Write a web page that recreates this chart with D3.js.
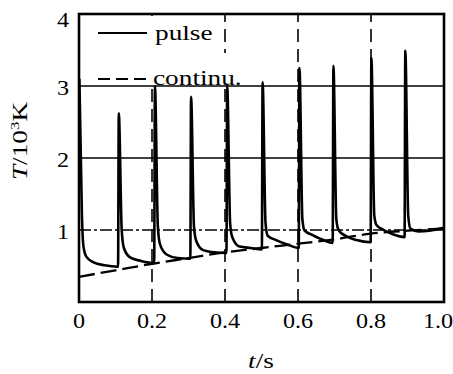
<!DOCTYPE html>
<html>
<head>
<meta charset="utf-8">
<script src="https://cdn.jsdelivr.net/npm/d3@7"></script>
<style>
  html, body { margin: 0; padding: 0; background: #fff; }
  text { font-family: "Liberation Serif", "Times New Roman", serif; fill: #000; }
</style>
</head>
<body>
<div id="chart"></div>
<script>
// axis ticks
const xTicks = [0, 0.2, 0.4, 0.6, 0.8, 1.0];
const xTickLabels = ['0', '0.2', '0.4', '0.6', '0.8', '1.0'];
const yTicks = [1, 2, 3, 4];
const yGrid = [1, 2, 3];
const xGrid = [0.2, 0.4, 0.6, 0.8];

// continuous discharge temperature (10^3 K)
const contTime = [0, 0.1, 0.2, 0.3, 0.4, 0.5, 0.6, 0.7, 0.8, 0.9, 1.0];
const contTemp = [0.35, 0.44, 0.53, 0.61, 0.69, 0.75, 0.81, 0.87, 0.95, 0.99, 1.02];

// pulsed discharge temperature (10^3 K)
const pulseTime = [
  0.001, 0.008, 0.012, 0.02, 0.04, 0.07, 0.107,
  0.109, 0.117, 0.123, 0.14, 0.17, 0.206,
  0.208, 0.216, 0.222, 0.24, 0.27, 0.305,
  0.307, 0.315, 0.321, 0.34, 0.37, 0.404,
  0.406, 0.414, 0.42, 0.44, 0.47, 0.501,
  0.503, 0.511, 0.517, 0.54, 0.57, 0.602,
  0.604, 0.612, 0.618, 0.64, 0.67, 0.695,
  0.697, 0.705, 0.711, 0.73, 0.76, 0.799,
  0.801, 0.809, 0.815, 0.835, 0.86, 0.892,
  0.894, 0.902, 0.908, 0.93, 0.96, 1.0
];
const pulseTemp = [
  3.1, 1.2, 0.78, 0.63, 0.55, 0.51, 0.49,
  2.62, 1.0, 0.75, 0.62, 0.57, 0.54,
  3.0, 1.05, 0.8, 0.66, 0.61, 0.6,
  2.85, 1.05, 0.85, 0.72, 0.69, 0.68,
  3.0, 1.1, 0.9, 0.77, 0.75, 0.73,
  3.05, 1.1, 0.92, 0.86, 0.8, 0.75,
  3.25, 1.15, 0.99, 0.93, 0.86, 0.82,
  3.28, 1.15, 1.0, 0.92, 0.86, 0.83,
  3.39, 1.2, 1.07, 1.0, 0.94, 0.9,
  3.49, 1.2, 1.02, 0.98, 0.99, 1.03
];

const legendLabels = ['pulse', 'continu.'];

const width = 453, height = 374;

const svg = d3.select('#chart').append('svg')
    .attr('width', width)
    .attr('height', height);

const x = d3.scaleLinear().domain([0, 1]).range([79, 444]);
const y = d3.scaleLinear().domain([0, 4]).range([302, 14]);

// grid
svg.append('g').selectAll('line')
    .data(yGrid)
  .enter().append('line')
    .attr('x1', x(0)).attr('x2', x(1))
    .attr('y1', d => y(d)).attr('y2', d => y(d))
    .attr('stroke', '#000')
    .attr('stroke-width', 1.6)
    .attr('stroke-dasharray', d => d === 1 ? '12,3,3,3' : null);

svg.append('g').selectAll('line')
    .data(xGrid)
  .enter().append('line')
    .attr('x1', d => x(d)).attr('x2', d => x(d))
    .attr('y1', y(0)).attr('y2', y(4))
    .attr('stroke', '#000')
    .attr('stroke-width', 1.6)
    .attr('stroke-dasharray', '13,7');

// legend background hides the grid behind it
svg.append('rect').attr('x', x(0) + 2).attr('y', y(4) + 2)
    .attr('width', 120).attr('height', y(3) - y(4) - 3).attr('fill', '#fff');
svg.append('rect').attr('x', x(0) + 2).attr('y', 53)
    .attr('width', 158).attr('height', y(3) - 54).attr('fill', '#fff');

// data lines
const line = d3.line().x(d => x(d[0])).y(d => y(d[1])).curve(d3.curveMonotoneX);

svg.append('path')
    .datum(contTime.map((t, i) => [t, contTemp[i]]))
    .attr('d', line)
    .attr('fill', 'none')
    .attr('stroke', '#000')
    .attr('stroke-width', 2.3)
    .attr('stroke-dasharray', '16,6');

svg.append('path')
    .datum(pulseTime.map((t, i) => [t, pulseTemp[i]]))
    .attr('d', line)
    .attr('fill', 'none')
    .attr('stroke', '#000')
    .attr('stroke-width', 2.6)
    .attr('stroke-linejoin', 'round');

// frame
svg.append('rect')
    .attr('x', x(0)).attr('y', y(4))
    .attr('width', x(1) - x(0)).attr('height', y(0) - y(4))
    .attr('fill', 'none')
    .attr('stroke', '#000')
    .attr('stroke-width', 2.6);

// the printed type is wide, so text is stretched along its run
function label(px, py, txt, anchor, size, stretch) {
    return svg.append('text')
        .attr('transform', `translate(${px},${py}) scale(${stretch},1)`)
        .attr('text-anchor', anchor)
        .style('font-size', size + 'px')
        .text(txt);
}

yTicks.forEach(v => {
    label(69, Math.max(y(v) + 9, 27), String(v), 'end', 21, 1.15);
});
xTicks.forEach((v, i) => {
    const px = i === xTicks.length - 1 ? x(v) - 6 : x(v);
    label(px, 328, xTickLabels[i], 'middle', 21, 1.15);
});

// axis titles
const xt = svg.append('text')
    .attr('transform', 'translate(261,368) scale(1.3,1)')
    .attr('text-anchor', 'middle')
    .style('font-size', '21px');
xt.append('tspan').style('font-style', 'italic').text('t');
xt.append('tspan').text('/s');

const yt = svg.append('text')
    .attr('transform', 'translate(27,141) rotate(-90) scale(1.3,1)')
    .attr('text-anchor', 'middle')
    .style('font-size', '21px');
yt.append('tspan').style('font-style', 'italic').text('T');
yt.append('tspan').text('/10');
yt.append('tspan').attr('dy', -8).style('font-size', '13px').text('3');
yt.append('tspan').attr('dy', 8).text('K');

// legend
const legendY = [33, 79];
svg.append('line')
    .attr('x1', 98).attr('x2', 147)
    .attr('y1', legendY[0]).attr('y2', legendY[0])
    .attr('stroke', '#000').attr('stroke-width', 2.2);
svg.append('line')
    .attr('x1', 98).attr('x2', 150)
    .attr('y1', legendY[1]).attr('y2', legendY[1])
    .attr('stroke', '#000').attr('stroke-width', 2.2)
    .attr('stroke-dasharray', '12,6');
label(155, legendY[0] + 7, legendLabels[0], 'start', 21, 1.3);
label(153, legendY[1] + 6, legendLabels[1], 'start', 21, 1.3);
</script>
</body>
</html>
